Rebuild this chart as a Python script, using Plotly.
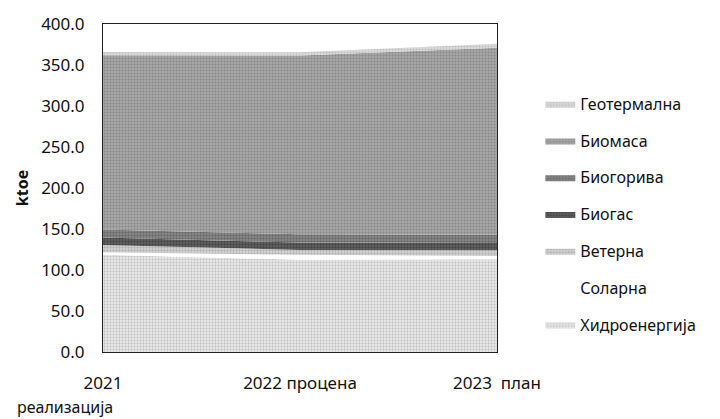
import plotly.graph_objects as go

# Years on the horizontal axis
years = ["2021", "2022 процена", "2023  план"]
year_sub = "реализација"

# Renewable energy by source, ktoe (stacked bottom to top)
hydro = [118.5, 112.5, 113.0]
solar = [3.0, 6.0, 4.0]
wind = [9.0, 6.0, 7.0]
biogas = [9.0, 9.0, 9.0]
biofuels = [10.0, 10.0, 10.0]
biomass = [212.5, 218.0, 228.0]
geothermal = [4.0, 4.0, 5.0]

y_ticks = [0, 50, 100, 150, 200, 250, 300, 350, 400]

series = [
    ("Хидроенергија", hydro, "#e6e6e6", "#9c9c9c", "."),
    ("Соларна", solar, "#ffffff", "#ffffff", ""),
    ("Ветерна", wind, "#d0d0d0", "#8a8a8a", "."),
    ("Биогас", biogas, "#5e5e5e", "#262626", "."),
    ("Биогорива", biofuels, "#858585", "#444444", "."),
    ("Биомаса", biomass, "#a6a6a6", "#6c6c6c", "."),
    ("Геотермална", geothermal, "#dadada", "#a0a0a0", "."),
]

xs = list(range(len(years)))
font = "Noto Sans"
fs = 17

fig = go.Figure()
for i, (name, vals, bg, fg, shape) in enumerate(series):
    fig.add_trace(go.Scatter(
        x=xs, y=vals, name=name, mode="lines",
        stackgroup="one", line=dict(width=0, color=bg),
        fillcolor=bg,
        fillpattern=dict(shape=shape, fgcolor=fg, bgcolor=bg, size=3, solidity=0.35)
        if shape else None,
        legendgroup=name, legendrank=len(series) - i,
    ))

fig.update_layout(
    width=720, height=419,
    margin=dict(l=103, r=223, t=18, b=67),
    paper_bgcolor="white", plot_bgcolor="white",
    font=dict(family=font, size=fs, color="#111111"),
    showlegend=True,
    legend=dict(
        traceorder="grouped", x=1.11, xanchor="left", y=0.42, yanchor="middle",
        font=dict(size=fs - 1), tracegroupgap=13, itemwidth=30,
        bgcolor="rgba(0,0,0,0)",
    ),
    xaxis=dict(
        range=[0, 2], tickmode="array", tickvals=xs, ticktext=years,
        showgrid=False, zeroline=False, showline=True, linecolor="#222222",
        linewidth=1, mirror=True, ticks="outside", ticklen=16,
        tickcolor="rgba(0,0,0,0)", tickfont=dict(size=fs),
    ),
    yaxis=dict(
        range=[0, 400], tickmode="array", tickvals=y_ticks,
        ticktext=[f"{v:.1f}" for v in y_ticks],
        showgrid=False, zeroline=False, showline=True, linecolor="#222222",
        linewidth=1, mirror=True, ticks="outside", ticklen=14,
        tickcolor="rgba(0,0,0,0)", tickfont=dict(size=fs),
        title=dict(text="<b>ktoe</b>", font=dict(size=fs - 1), standoff=8),
    ),
    annotations=[dict(
        text=year_sub, xref="x", yref="paper", x=0, y=0, xanchor="center",
        yanchor="middle", xshift=-38, yshift=-55, showarrow=False,
        font=dict(size=fs - 1),
    )],
)

fig.write_html("out.html")
